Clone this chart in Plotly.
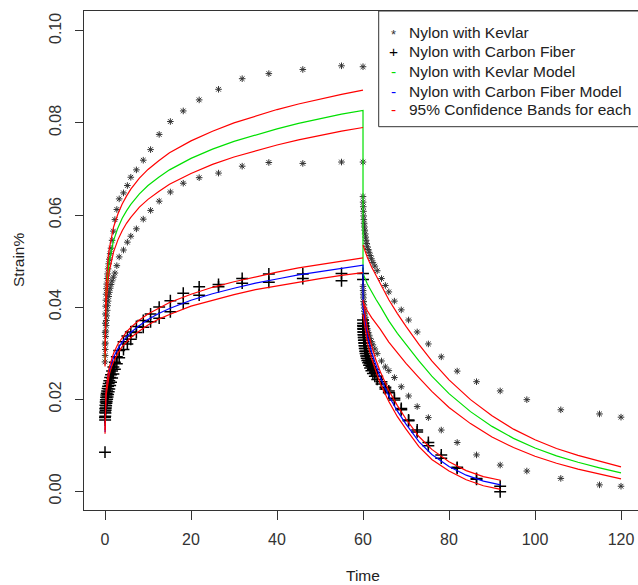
import plotly.graph_objects as go

# ---------------- data ----------------
load_t = [0.0, 0.03, 0.06, 0.1, 0.15, 0.2, 0.26, 0.33, 0.4, 0.5, 0.6, 0.72, 0.86, 1.0, 1.2, 1.4,
          1.65, 1.95, 2.3, 2.75, 3.3, 4.3, 5.2, 6.0, 7.3, 8.9, 10.6, 12.6, 15.2, 18.2, 21.9, 26.4,
          31.9, 38.1, 46.0, 55.0, 60.0]
kev_A_load = [0.0320, 0.0345, 0.0365, 0.0385, 0.0402, 0.0415, 0.0428, 0.0440, 0.0450, 0.0462, 0.0472,
              0.0483, 0.0494, 0.0504, 0.0516, 0.0528, 0.0545, 0.0565, 0.0590, 0.0612, 0.0635, 0.0648,
              0.0664, 0.0682, 0.0698, 0.0719, 0.0742, 0.0775, 0.0803, 0.0826, 0.0850, 0.0873, 0.0896,
              0.0907, 0.0916, 0.0924, 0.0922]
kev_B_load = [0.0281, 0.0295, 0.0308, 0.0322, 0.0336, 0.0348, 0.0360, 0.0371, 0.0381, 0.0393, 0.0403,
              0.0413, 0.0423, 0.0432, 0.0441, 0.0449, 0.0457, 0.0465, 0.0474, 0.0490, 0.0509, 0.0524,
              0.0541, 0.0554, 0.0570, 0.0591, 0.0610, 0.0630, 0.0650, 0.0669, 0.0681, 0.0691, 0.0706,
              0.0714, 0.0712, 0.0715, 0.0715]
carb_A_load = [0.0160, 0.0172, 0.0180, 0.0187, 0.0194, 0.0199, 0.0204, 0.0209, 0.0213, 0.0218, 0.0223,
               0.0228, 0.0234, 0.0240, 0.0247, 0.0253, 0.0261, 0.0270, 0.0280, 0.0292, 0.0306, 0.0325,
               0.0337, 0.0346, 0.0358, 0.0371, 0.0385, 0.0400, 0.0414, 0.0430, 0.0444, 0.0449, 0.0462,
               0.0472, 0.0472, 0.0473, 0.0473]
carb_B_load = [0.0085, 0.0155, 0.0163, 0.0170, 0.0176, 0.0181, 0.0186, 0.0191, 0.0195, 0.0200, 0.0205,
               0.0210, 0.0216, 0.0222, 0.0230, 0.0237, 0.0246, 0.0255, 0.0265, 0.0277, 0.0290, 0.0308,
               0.0320, 0.0330, 0.0345, 0.0356, 0.0368, 0.0376, 0.0390, 0.0408, 0.0426, 0.0444, 0.0452,
               0.0454, 0.0462, 0.0457, 0.0460]

unload_t = [60.0, 60.03, 60.06, 60.1, 60.15, 60.2, 60.26, 60.33, 60.4, 60.5, 60.6, 60.72, 60.86, 61.0,
            61.2, 61.4, 61.65, 61.95, 62.3, 62.75, 63.3, 64.3, 65.2, 66.0, 67.3, 68.9, 70.6, 72.6,
            75.2, 78.2, 81.9, 86.4, 91.9, 98.1, 106.0, 115.0, 120.0]
kev_A_unload = [0.0640, 0.0628, 0.0618, 0.0608, 0.0598, 0.0590, 0.0582, 0.0574, 0.0567, 0.0559, 0.0552,
                0.0545, 0.0538, 0.0531, 0.0525, 0.0519, 0.0512, 0.0505, 0.0497, 0.0489, 0.0479, 0.0462,
                0.0447, 0.0433, 0.0413, 0.0394, 0.0372, 0.0346, 0.0320, 0.0292, 0.0261, 0.0238, 0.0218,
                0.0199, 0.0177, 0.0168, 0.0161]
kev_B_unload = [0.0445, 0.0436, 0.0428, 0.0420, 0.0412, 0.0405, 0.0398, 0.0391, 0.0385, 0.0378, 0.0372,
                0.0366, 0.0359, 0.0353, 0.0345, 0.0339, 0.0332, 0.0325, 0.0318, 0.0309, 0.0299, 0.0283,
                0.0270, 0.0262, 0.0247, 0.0227, 0.0207, 0.0184, 0.0160, 0.0133, 0.0106, 0.0079, 0.0057,
                0.0044, 0.0028, 0.0014, 0.0011]
carb_unload_t = unload_t[:33]
carb_A_unload = [0.0372, 0.0365, 0.0358, 0.0352, 0.0346, 0.0340, 0.0334, 0.0328, 0.0322, 0.0316, 0.0310,
                 0.0304, 0.0299, 0.0294, 0.0288, 0.0283, 0.0277, 0.0271, 0.0265, 0.0258, 0.0250, 0.0238,
                 0.0226, 0.0218, 0.0198, 0.0177, 0.0155, 0.0133, 0.0106, 0.0079, 0.0052, 0.0028, 0.0011]
carb_B_unload = [0.0360, 0.0353, 0.0346, 0.0340, 0.0334, 0.0328, 0.0322, 0.0316, 0.0310, 0.0304, 0.0299,
                 0.0294, 0.0289, 0.0284, 0.0279, 0.0274, 0.0268, 0.0262, 0.0256, 0.0250, 0.0243, 0.0233,
                 0.0222, 0.0214, 0.0202, 0.0180, 0.0153, 0.0129, 0.0099, 0.0072, 0.0050, 0.0026, -0.0001]

# model curves
model_load_t = [0.01, 0.05, 0.1, 0.2, 0.3, 0.5, 0.75, 1, 1.5, 2, 3, 4, 5, 6, 8, 10, 12.5, 15, 20, 25,
                30, 35, 40, 45, 50, 55, 60]
kev_fit_load = [0.0284, 0.0346, 0.0377, 0.0410, 0.0431, 0.0459, 0.0483, 0.0500, 0.0526, 0.0545, 0.0572,
                0.0593, 0.0609, 0.0623, 0.0646, 0.0664, 0.0682, 0.0698, 0.0723, 0.0743, 0.0760, 0.0774,
                0.0787, 0.0799, 0.0809, 0.0819, 0.0827]
kev_up_load = [0.0299, 0.0364, 0.0397, 0.0432, 0.0454, 0.0483, 0.0509, 0.0527, 0.0554, 0.0574, 0.0602,
               0.0624, 0.0641, 0.0656, 0.0680, 0.0699, 0.0718, 0.0735, 0.0761, 0.0782, 0.0800, 0.0815,
               0.0829, 0.0841, 0.0852, 0.0862, 0.0871]
kev_lo_load = [0.0271, 0.0330, 0.0360, 0.0392, 0.0412, 0.0438, 0.0461, 0.0478, 0.0502, 0.0520, 0.0546,
               0.0566, 0.0582, 0.0595, 0.0617, 0.0634, 0.0651, 0.0667, 0.0690, 0.0710, 0.0726, 0.0739,
               0.0752, 0.0763, 0.0773, 0.0782, 0.0790]
carb_fit_load = [0.0129, 0.0165, 0.0184, 0.0204, 0.0218, 0.0235, 0.0250, 0.0262, 0.0279, 0.0291, 0.0310,
                 0.0324, 0.0335, 0.0345, 0.0360, 0.0373, 0.0386, 0.0397, 0.0415, 0.0429, 0.0441, 0.0452,
                 0.0461, 0.0470, 0.0477, 0.0484, 0.0491]
carb_up_load = [0.0133, 0.0170, 0.0190, 0.0211, 0.0225, 0.0243, 0.0258, 0.0270, 0.0288, 0.0300, 0.0320,
                0.0334, 0.0346, 0.0356, 0.0372, 0.0385, 0.0398, 0.0410, 0.0428, 0.0443, 0.0455, 0.0466,
                0.0476, 0.0485, 0.0492, 0.0499, 0.0507]
carb_lo_load = [0.0125, 0.0160, 0.0178, 0.0197, 0.0211, 0.0227, 0.0242, 0.0254, 0.0270, 0.0282, 0.0300,
                0.0314, 0.0324, 0.0334, 0.0348, 0.0361, 0.0374, 0.0384, 0.0402, 0.0415, 0.0427, 0.0438,
                0.0446, 0.0455, 0.0462, 0.0469, 0.0475]

kev_model_unload_t = [60, 61, 62, 63, 64, 66, 68, 70, 73, 76, 80, 85, 90, 95, 100, 105, 110, 115, 120]
kev_fit_unload = [0.0473, 0.0450, 0.0432, 0.0417, 0.0402, 0.0370, 0.0343, 0.0318, 0.0283, 0.0250, 0.0212,
                  0.0173, 0.0141, 0.0115, 0.0094, 0.0077, 0.0063, 0.0051, 0.0040]
kev_up_unload = [0.0535, 0.0508, 0.0487, 0.0469, 0.0452, 0.0416, 0.0386, 0.0358, 0.0319, 0.0283, 0.0242,
                 0.0199, 0.0164, 0.0135, 0.0112, 0.0093, 0.0078, 0.0065, 0.0053]
kev_lo_unload = [0.0411, 0.0392, 0.0377, 0.0365, 0.0352, 0.0324, 0.0300, 0.0278, 0.0247, 0.0217, 0.0182,
                 0.0147, 0.0118, 0.0095, 0.0076, 0.0061, 0.0048, 0.0037, 0.0027]

carb_model_unload_t = [60, 60.5, 61, 62, 63, 64, 66, 68, 70, 73, 76, 80, 84, 88, 92]
carb_fit_unload = [0.0400, 0.0365, 0.0338, 0.0302, 0.0272, 0.0247, 0.0207, 0.0174, 0.0146, 0.0108, 0.0080,
                   0.0054, 0.0035, 0.0022, 0.0014]
carb_up_unload = [0.0416, 0.0380, 0.0353, 0.0316, 0.0285, 0.0260, 0.0219, 0.0186, 0.0157, 0.0119, 0.0091,
                  0.0064, 0.0045, 0.0032, 0.0024]
carb_lo_unload = [0.0384, 0.0350, 0.0323, 0.0288, 0.0259, 0.0234, 0.0195, 0.0162, 0.0135, 0.0097, 0.0069,
                  0.0044, 0.0025, 0.0012, 0.0004]

x_ticks = [0, 20, 40, 60, 80, 100, 120]
y_ticks = [0.00, 0.02, 0.04, 0.06, 0.08, 0.10]
y_ticktext = ["0.00", "0.02", "0.04", "0.06", "0.08", "0.10"]
legend_labels = ["Nylon with Kevlar", "Nylon with Carbon Fiber", "Nylon with Kevlar Model",
                 "Nylon with Carbon Fiber Model", "95% Confidence Bands for each"]

# ---------------- figure ----------------
FONT = "Liberation Sans, Arial, sans-serif"
W, H = 638, 585
L, R, T, B = 84, 0, 11, 75
PW, PH = W - L - R, H - T - B


def px(xp):
    return (xp - L) / PW


def py(yp):
    return (H - B - yp) / PH


fig = go.Figure()

star = dict(symbol="asterisk-open", size=5.5, color="#333", line=dict(width=1.0, color="#333"))
cross = dict(symbol="cross-thin-open", size=8.5, color="black", line=dict(width=1.5, color="black"))

for xs, ys in [(load_t, kev_A_load), (load_t, kev_B_load), (unload_t, kev_A_unload), (unload_t, kev_B_unload)]:
    fig.add_trace(go.Scatter(x=xs, y=ys, mode="markers", marker=star, showlegend=False))
for xs, ys in [(load_t, carb_A_load), (load_t, carb_B_load),
               (carb_unload_t, carb_A_unload), (carb_unload_t, carb_B_unload)]:
    fig.add_trace(go.Scatter(x=xs, y=ys, mode="markers", marker=cross, showlegend=False))

LW = 1.2
# fitted models (loading and unloading joined at t=60)
fig.add_trace(go.Scatter(x=model_load_t + kev_model_unload_t, y=kev_fit_load + kev_fit_unload,
                         mode="lines", line=dict(color="#00E000", width=LW), showlegend=False))
fig.add_trace(go.Scatter(x=model_load_t + carb_model_unload_t, y=carb_fit_load + carb_fit_unload,
                         mode="lines", line=dict(color="#0000FF", width=LW), showlegend=False))
# confidence bands
bands = [(model_load_t, kev_up_load), (model_load_t, kev_lo_load),
         (kev_model_unload_t, kev_up_unload), (kev_model_unload_t, kev_lo_unload),
         (model_load_t, carb_up_load), (model_load_t, carb_lo_load),
         (carb_model_unload_t, carb_up_unload), (carb_model_unload_t, carb_lo_unload)]
for xs, ys in bands:
    fig.add_trace(go.Scatter(x=xs, y=ys, mode="lines", line=dict(color="#FF0000", width=LW),
                             showlegend=False))

# ---------------- custom legend (R style) ----------------
leg_left, leg_top, leg_bottom = 378.7, 11, 126.7
fig.add_shape(type="rect", xref="paper", yref="paper", x0=px(leg_left), x1=1.02,
              y0=py(leg_bottom), y1=py(leg_top), line=dict(color="#333", width=1),
              fillcolor="white", layer="above")
rows = [32, 52, 71, 91, 110]
symbols = [("*", "#333", 13, 2.5), ("+", "black", 15.5, 0), ("-", "#00E000", 15.5, 0),
           ("-", "#0000FF", 15.5, 0), ("-", "#FF0000", 15.5, 0)]
for (sym, col, fs, dy), lab, ry in zip(symbols, legend_labels, rows):
    fig.add_annotation(x=px(393), y=py(ry + dy), xref="paper", yref="paper",
                       text=sym, showarrow=False, xanchor="center", yanchor="middle",
                       font=dict(family=FONT, size=fs, color=col))
    fig.add_annotation(x=px(407), y=py(ry), xref="paper", yref="paper", text=lab, showarrow=False,
                       xanchor="left", yanchor="middle", font=dict(family=FONT, size=15.5, color="#222"))

# axis titles
fig.add_annotation(x=px(362.5), y=py(575), xref="paper", yref="paper", text="Time", showarrow=False,
                   xanchor="center", yanchor="middle", font=dict(family=FONT, size=15.5, color="#222"))
fig.add_annotation(x=px(18), y=py(260), xref="paper", yref="paper", text="Strain%", showarrow=False,
                   textangle=-90, xanchor="center", yanchor="middle",
                   font=dict(family=FONT, size=15.5, color="#222"))

fig.update_layout(
    width=W, height=H, margin=dict(l=L, r=R, t=T, b=B, pad=0),
    paper_bgcolor="white", plot_bgcolor="white",
    font=dict(family=FONT, size=16, color="#222"),
    xaxis=dict(range=[-4.884, 123.95], tickvals=x_ticks, ticks="outside", ticklen=9, tickwidth=1,
               tickcolor="#333", showgrid=False, zeroline=False, showline=True, mirror=True,
               linecolor="#333", linewidth=1, tickfont=dict(family=FONT, size=16, color="#333"),
               ticklabelstandoff=6),
    yaxis=dict(range=[-0.00406, 0.1043], tickvals=y_ticks, ticktext=y_ticktext, tickangle=-90,
               ticks="outside", ticklen=8, tickwidth=1, tickcolor="#333", showgrid=False,
               zeroline=False, showline=True, mirror=False, linecolor="#333", linewidth=1,
               tickfont=dict(family=FONT, size=16, color="#333"), ticklabelstandoff=8),
)

fig.write_html("out.html")
